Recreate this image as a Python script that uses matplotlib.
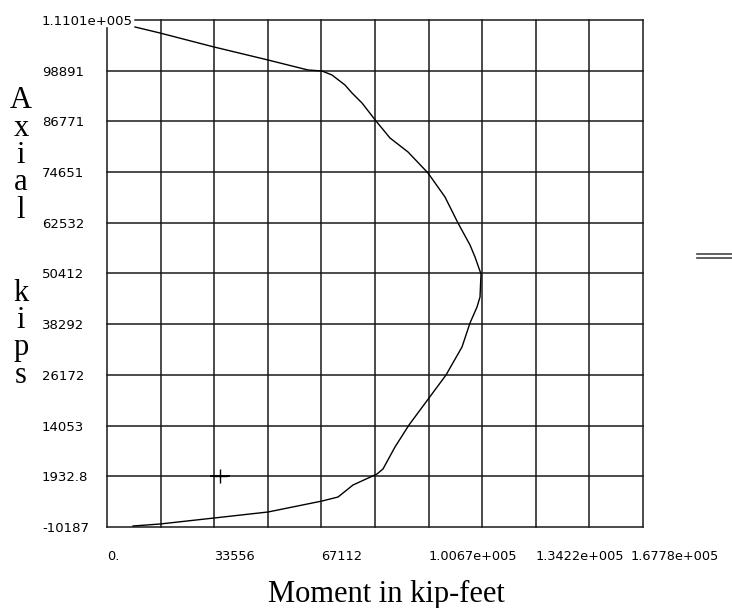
import numpy as np
import matplotlib
matplotlib.use("Agg")
import matplotlib.pyplot as plt
from matplotlib.lines import Line2D
from matplotlib.transforms import ScaledTranslation

# interaction curve (kip-feet, kips)
moment = [8765, 16590, 33490, 50400, 62920, 67300, 70430, 74500, 76690, 79820,
          84200, 88590, 94220, 100480, 105800, 109870, 113630, 115190, 117070,
          116760, 115820, 113630, 111120, 106120, 100790, 94530, 90150, 86390,
          84510, 77000, 72310, 67300, 50400, 33490, 16590, 8140]
axial = [109340, 107900, 104560, 101450, 99060, 98820, 97860, 95470, 93560, 91170,
         86870, 82800, 79460, 74440, 68700, 62480, 57220, 54360, 50290,
         44790, 42400, 38580, 32840, 26150, 20650, 14200, 8940, 3680,
         2480, -150, -3020, -3980, -6600, -8040, -9470, -9950]

# load point marker
pt_moment = [35400]
pt_axial = [1932.8]

y_ticks = [-10187, 1932.8, 14053, 26172, 38292, 50412, 62532, 74651, 86771, 98891, 111010]
y_labels = ["-10187", "1932.8", "14053", "26172", "38292", "50412", "62532",
            "74651", "86771", "98891", "1.1101e+005"]
x_ticks = [0, 33556, 67112, 100670, 134220, 167780]
x_labels = ["0.", "33556", "67112", "1.0067e+005", "1.3422e+005", "1.6778e+005"]
x_grid = [0, 16778, 33556, 50334, 67112, 83890, 100670, 117450, 134220, 151000, 167780]

W, H = 732, 608
fig = plt.figure(figsize=(W / 100, H / 100), dpi=100)
ax = fig.add_axes([107 / W, (H - 527) / H, 536 / W, 507 / H])
ax.set_xlim(x_grid[0], x_grid[-1])
ax.set_ylim(y_ticks[0], y_ticks[-1])
for s in ax.spines.values():
    s.set_visible(False)

gc = "#1a1a1a"
# grid lines (left edge and top edge are a little short, as in the original)
for i, xv in enumerate(x_grid):
    top = (527 - 28) / 507 if i == 0 else 1
    ax.axvline(xv, ymin=0, ymax=top, color=gc, lw=1.1, clip_on=False)
for i, yv in enumerate(y_ticks):
    left = 28 / 536 if i == len(y_ticks) - 1 else 0
    ax.axhline(yv, xmin=left, xmax=1, color=gc, lw=1.1, clip_on=False)

ax.plot(moment, axial, color="black", lw=1.0, clip_on=False)
ax.plot(pt_moment, pt_axial, marker="+", ms=10, mew=1.0, color="black", ls="none")
ax.plot(pt_moment, pt_axial, marker="_", ms=15, mew=1.3, color="black", ls="none")

ax.set_yticks(y_ticks)
ax.set_yticklabels(y_labels, fontsize=9.5, family="DejaVu Sans")
ax.tick_params(axis="y", length=0, pad=46.8)
for lab in ax.get_yticklabels():
    lab.set_horizontalalignment("left")

ax.set_xticks(x_ticks)
ax.set_xticklabels(x_labels, fontsize=9.3, family="DejaVu Sans")
ax.tick_params(axis="x", length=0, pad=16.5)
for lab in ax.get_xticklabels():
    lab.set_horizontalalignment("left")
# last label is pulled left so it stays inside the picture
last = ax.get_xticklabels()[-1]
last.set_transform(last.get_transform() + ScaledTranslation(-12 / 100, 0, fig.dpi_scale_trans))

# axis titles
fig.text(386 / W, 1 - 602 / H, "Moment in kip-feet", family="Liberation Serif",
         fontsize=22, ha="center", va="baseline")
letters = ["A", "x", "i", "a", "l", "", "", "k", "i", "p", "s"]
for n, ch in enumerate(letters):
    if ch:
        fig.text(21 / W, 1 - (108 + 27.5 * n) / H, ch, family="Liberation Serif",
                 fontsize=22, ha="center", va="baseline")

# the small double bar at the right edge
for yy in (254, 257.5):
    fig.add_artist(Line2D([697 / W, 1.0], [1 - yy / H, 1 - yy / H],
                          color="#444444", lw=1.2, transform=fig.transFigure))

fig.savefig("out.png", dpi=100)
